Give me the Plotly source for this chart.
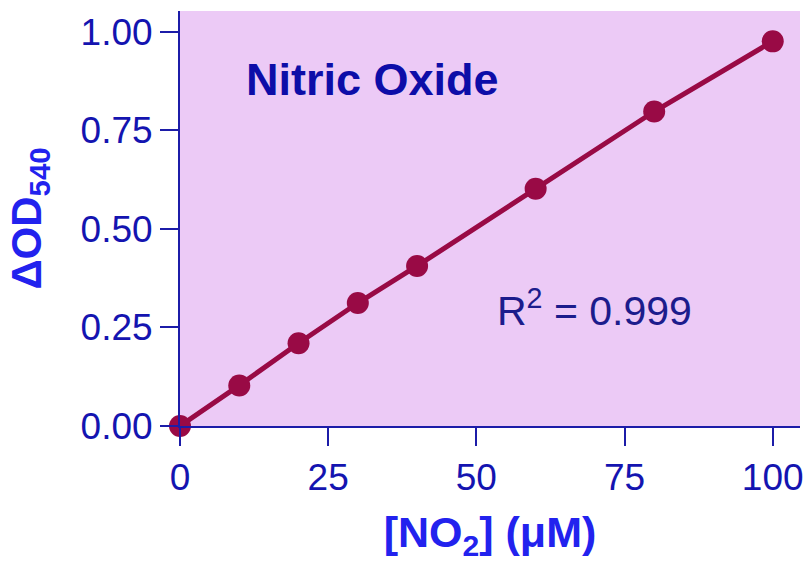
import plotly.graph_objects as go

no2_um = [0, 10, 20, 30, 40, 60, 80, 100]
delta_od = [0.0, 0.103, 0.210, 0.312, 0.406, 0.602, 0.798, 0.976]
x_ticks = [0, 25, 50, 75, 100]
y_ticks = [0.0, 0.25, 0.5, 0.75, 1.0]
y_tick_text = ["0.00", "0.25", "0.50", "0.75", "1.00"]

FONT = "Liberation Sans, Arial, sans-serif"
AXIS = "#1c1ca8"
LINE = "#990a45"

fig = go.Figure()
fig.add_trace(go.Scatter(
    x=no2_um, y=delta_od, mode="lines+markers",
    line=dict(color=LINE, width=5),
    marker=dict(color=LINE, size=22),
    cliponaxis=False, showlegend=False,
))

fig.add_annotation(x=32.4, y=0.879, xref="x", yref="y", text="<b>Nitric Oxide</b>",
                   showarrow=False, font=dict(family=FONT, size=45, color="#0d0da8"))
fig.add_annotation(x=70, y=0.30, xref="x", yref="y", text="R<sup>2</sup> = 0.999",
                   showarrow=False, font=dict(family=FONT, size=41, color="#1c1c8c"))

fig.update_layout(
    width=807, height=562,
    margin=dict(l=180, r=4, t=11, b=136),
    plot_bgcolor="#eccaf6", paper_bgcolor="white",
    font=dict(family=FONT, color="#1414b0"),
    xaxis=dict(range=[0, 104.6], tickvals=x_ticks, ticks="outside", ticklen=18, tickwidth=2,
               tickcolor=AXIS, showline=True, linecolor=AXIS, linewidth=2, showgrid=False,
               zeroline=False, tickfont=dict(size=37, color="#1414b0"),
               title=dict(text="<b>[NO<sub>2</sub>] (μM)</b>", font=dict(size=43, color="#2222ee"),
                          standoff=29)),
    yaxis=dict(range=[0, 1.053], tickvals=y_ticks, ticktext=y_tick_text, ticks="outside",
               ticklen=18, tickwidth=2, tickcolor=AXIS, showline=True, linecolor=AXIS,
               linewidth=2, showgrid=False, zeroline=False,
               tickfont=dict(size=37, color="#1414b0"),
               title=dict(text="<b>ΔOD<sub>540</sub></b>", font=dict(size=42, color="#2222ee"),
                          standoff=26)),
)

fig.write_html("out.html", config={"displayModeBar": False},
               post_script="document.body.style.margin='0';document.body.style.overflow='hidden';")
